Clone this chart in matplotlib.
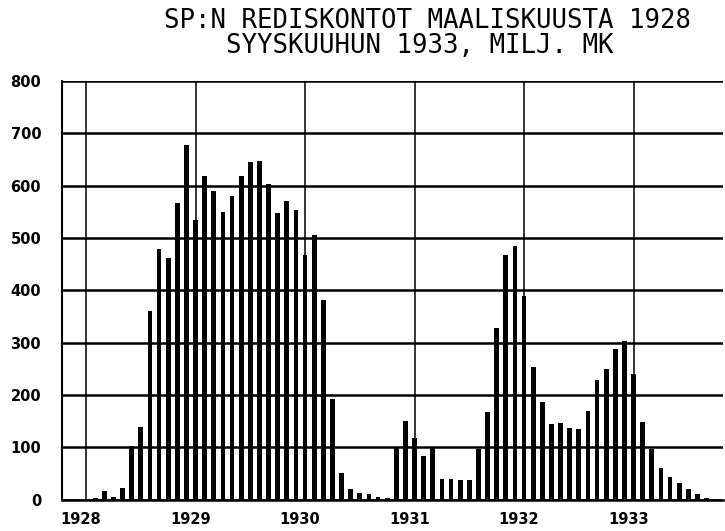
import numpy as np
import matplotlib
matplotlib.use('Agg')
from matplotlib import pyplot as plt
from matplotlib.transforms import ScaledTranslation

# Monthly rediscounts, million mk (Feb 1928 .. Sep 1933)
vals_1928 = [2, 16, 4, 22, 102, 139, 361, 479, 462, 567, 677]          # Feb-Dec
vals_1929 = [535, 618, 590, 549, 581, 618, 645, 648, 603, 547, 571, 553]
vals_1930 = [467, 506, 381, 192, 50, 20, 13, 11, 4, 3, 99, 150]
vals_1931 = [117, 84, 101, 39, 39, 37, 38, 96, 167, 328, 467, 484]
vals_1932 = [389, 253, 186, 145, 146, 137, 135, 170, 229, 250, 287, 303]
vals_1933 = [239, 148, 96, 61, 43, 31, 20, 11, 3]                       # Jan-Sep

years = [1928, 1929, 1930, 1931, 1932, 1933]
first_month = 2  # February 1928
y_ticks = [0, 100, 200, 300, 400, 500, 600, 700, 800]

values = np.array(vals_1928 + vals_1929 + vals_1930 + vals_1931 + vals_1932 + vals_1933)
# x in months after January 1928
months = np.arange(len(values)) + (first_month - 1)
year_pos = [(y - years[0]) * 12 for y in years]

fig = plt.figure(figsize=(7.25, 5.31), dpi=100)
ax = fig.add_axes([62 / 725, 1 - 499.5 / 531, (723 - 62) / 725, (499.5 - 81) / 531])

# grid
for yv in y_ticks:
    ax.axhline(yv, color='black', lw=1.8, zorder=1)
for xv in year_pos:
    ax.axvline(xv, color='black', lw=1.1, zorder=1)

ax.bar(months, values, width=0.52, color='black', zorder=2)

ax.set_xlim(-2.63, 69.8)
ax.set_ylim(0, 800)

for side in ['top', 'right']:
    ax.spines[side].set_visible(False)
ax.spines['left'].set_linewidth(1.5)
ax.spines['bottom'].set_linewidth(1.8)

ax.set_yticks(y_ticks)
ax.set_yticklabels([str(v) for v in y_ticks], fontsize=10.5, fontweight='bold')
ax.tick_params(axis='y', length=0, pad=15)

ax.set_xticks(year_pos)
ax.set_xticklabels([str(y) for y in years], fontsize=10.5, fontweight='bold')
ax.tick_params(axis='x', length=0, pad=9)
shift = ScaledTranslation(-5 / 100, 0, fig.dpi_scale_trans)
for lbl in ax.get_xticklabels():
    lbl.set_transform(lbl.get_transform() + shift)

fig.text(427 / 725, 1 - 21 / 531, 'SP:N REDISKONTOT MAALISKUUSTA 1928',
         ha='center', va='center', fontsize=18.5, family='DejaVu Sans Mono')
fig.text(420 / 725, 1 - 46 / 531, 'SYYSKUUHUN 1933, MILJ. MK',
         ha='center', va='center', fontsize=18.5, family='DejaVu Sans Mono')

fig.savefig('out.png', dpi=100)
